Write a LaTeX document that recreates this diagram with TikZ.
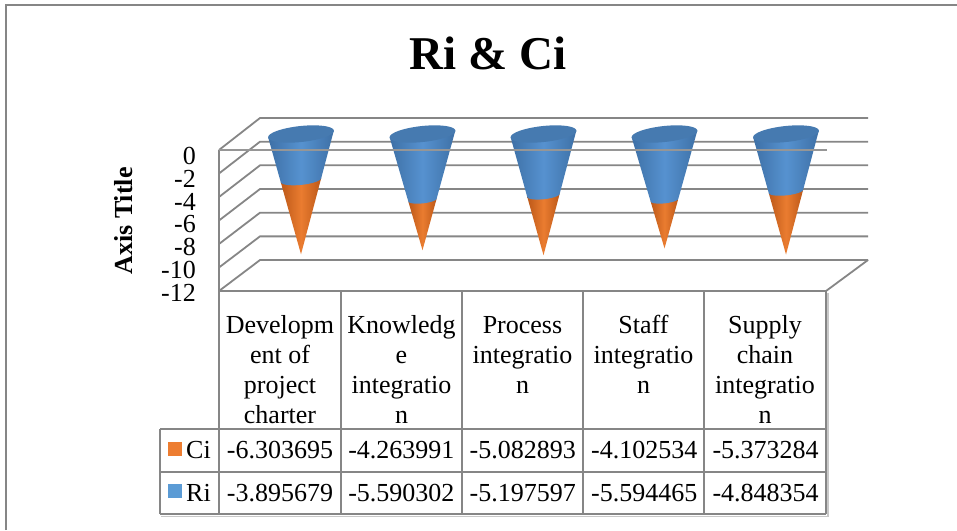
\documentclass[tikz,border=0pt]{standalone}
\usepackage{fontspec}
\setmainfont{Liberation Serif}
\definecolor{gridc}{RGB}{134,134,134}
\definecolor{axisc}{RGB}{150,150,150}
\definecolor{tablec}{RGB}{134,134,134}
\definecolor{shadowc}{RGB}{200,200,200}
\definecolor{blueD}{RGB}{62,112,166}
\definecolor{blueL}{RGB}{86,146,208}
\definecolor{blueTop}{RGB}{70,122,176}
\definecolor{orangeD}{RGB}{188,88,24}
\definecolor{orangeL}{RGB}{234,124,48}
\definecolor{legOrange}{RGB}{237,125,49}
\definecolor{legBlue}{RGB}{91,155,213}
\newcommand{\tabfont}{\fontsize{26}{30}\selectfont}
\newcommand{\drawcone}[3]{%
  \pgfmathsetmacro{\cnTot}{#2+#3}%
  \pgfmathsetmacro{\cnYa}{134+\cnTot*11.79}%
  \pgfmathsetmacro{\cnYb}{134+#2*11.79}%
  \pgfmathsetmacro{\cnF}{1-#2/\cnTot}%
  \pgfmathsetmacro{\cnRb}{33*\cnF}%
  \pgfmathsetmacro{\cnRyb}{8*\cnF}%
  \pgfmathsetmacro{\cnCt}{cos(-6)}%
  \pgfmathsetmacro{\cnSt}{sin(-6)}%
  % orange lower part
  \shade[left color=orangeD, right color=orangeD, middle color=orangeL]
    ({#1-\cnRb*\cnCt},{\cnYb-\cnRb*\cnSt}) -- (#1,\cnYa) --
    ({#1+\cnRb*\cnCt},{\cnYb+\cnRb*\cnSt}) -- cycle;
  % blue upper part
  \shade[left color=blueD, right color=blueD, middle color=blueL]
    ({#1-33*\cnCt},{134-33*\cnSt}) --
    plot[domain=180:0, samples=40]
      ({#1+\cnRb*cos(\x)*\cnCt-\cnRyb*sin(\x)*\cnSt},{\cnYb+\cnRb*cos(\x)*\cnSt+\cnRyb*sin(\x)*\cnCt})
    -- ({#1+33*\cnCt},{134+33*\cnSt}) -- cycle;
  % top ellipse
  \fill[blueTop] plot[domain=0:360, samples=72]
      ({#1+33*cos(\x)*\cnCt-8*sin(\x)*\cnSt},{134+33*cos(\x)*\cnSt+8*sin(\x)*\cnCt}) -- cycle;
}
\begin{document}
\begin{tikzpicture}[x=1pt,y=-1pt,
  grid/.style={draw=gridc, line width=1.8pt},
  tabline/.style={draw=tablec, line width=1.9pt},
  hdr/.style={font=\tabfont, align=center, anchor=north, inner sep=0pt},
  num/.style={font=\tabfont, anchor=base, inner sep=0pt},
  ylab/.style={font=\fontsize{26}{26}\selectfont, anchor=east, inner sep=0pt}]
\useasboundingbox (0,0) rectangle (957,530);
\fill[white] (0,0) rectangle (957,530);
% outer frame
\draw[draw=gridc, line width=1.6pt] (6,530) -- (6,5) -- (957,5);
% title
\node[font=\fontsize{47}{50}\selectfont\bfseries, anchor=base, inner sep=0pt] (title) at (488,69) {Ri \& Ci};
% axis title
\node[font=\fontsize{26}{26}\selectfont\bfseries, rotate=90, inner sep=0pt] (axtitle) at (124,221) {Axis Title};
% back wall gridlines and left wall lines
\foreach \i in {0,...,6} {
  \draw[grid] (219,{150+\i*23.5}) -- (260,{118+\i*23.67}) -- (868,{118+\i*23.67});
}
\draw[grid] (219,150) -- (219,291);
% floor
\draw[grid] (219,291) -- (826,291) -- (868,260);
% cones
\drawcone{301}{3.895679}{6.303695}
\drawcone{422.5}{5.590302}{4.263991}
\drawcone{543.5}{5.197597}{5.082893}
\drawcone{664.5}{5.594465}{4.102534}
\drawcone{786}{4.848354}{5.373284}
% front axis line
\draw[draw=axisc, line width=1.4pt] (219,150) -- (827,150);
% y labels
\foreach \v [count=\i from 0] in {0,-2,-4,-6,-8,-10,-12} {
  \node[ylab] (yl\i) at (196,{156+\i*22.8}) {\v};
}
% table shadow
\draw[draw=shadowc, line width=1.2pt] (161,516.5) -- (828,516.5) -- (828,293);
% table lines
\foreach \xx in {219,341,462,583,704,826} {
  \draw[tabline] (\xx,291) -- (\xx,514);
}
\draw[tabline] (160,429) -- (826,429);
\draw[tabline] (160,472) -- (826,472);
\draw[tabline] (160,514) -- (826,514);
\draw[tabline] (160,429) -- (160,514);
% headers
\node[hdr] (h1) at (280,312) {\strut Developm\\ent of\\project\\charter};
\node[hdr] (h2) at (401.5,312) {\strut Knowledg\\e\\integratio\\n};
\node[hdr] (h3) at (522.5,312) {\strut Process\\integratio\\n};
\node[hdr] (h4) at (643.5,312) {\strut Staff\\integratio\\n};
\node[hdr] (h5) at (765,312) {\strut Supply\\chain\\integratio\\n};
% legend
\fill[legOrange] (168,442) rectangle (182,456);
\fill[legBlue] (168,484) rectangle (182,498);
\node[num, anchor=base west] (lci) at (186,458) {Ci};
\node[num, anchor=base west] (lri) at (186,501) {Ri};
% data
\foreach \v [count=\i] in {-6.303695,-4.263991,-5.082893,-4.102534,-5.373284} {
  \node[num] (ci\i) at ({280+(\i-1)*121.4},458) {\v};
}
\foreach \v [count=\i] in {-3.895679,-5.590302,-5.197597,-5.594465,-4.848354} {
  \node[num] (ri\i) at ({280+(\i-1)*121.4},501) {\v};
}
\end{tikzpicture}
\end{document}
